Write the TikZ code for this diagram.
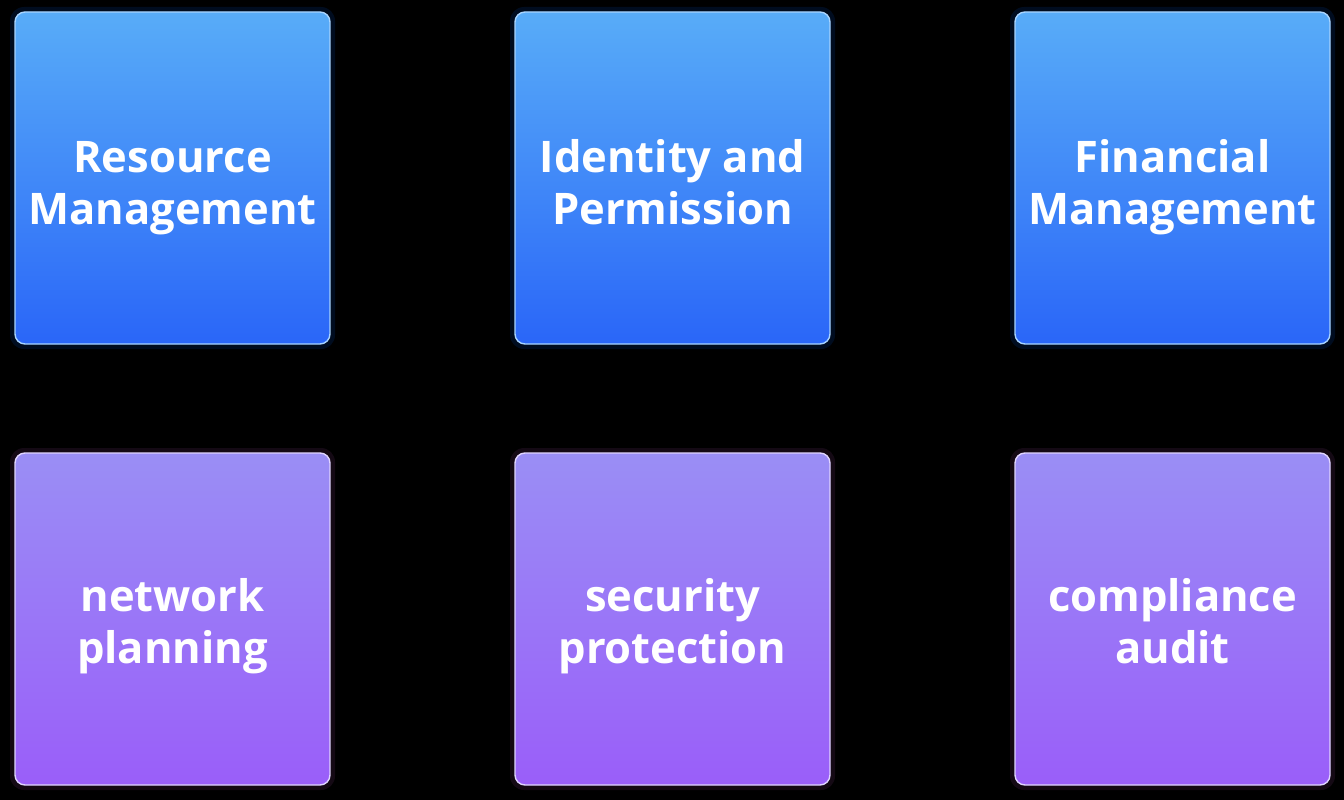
\documentclass[tikz,border=0pt]{standalone}
\usepackage{fontspec}
\setmainfont{Open Sans}
\usetikzlibrary{positioning}
\definecolor{btop}{HTML}{58ACF8}
\definecolor{bbot}{HTML}{2A66F8}
\definecolor{ptop}{HTML}{9A8EF5}
\definecolor{pbot}{HTML}{9A5EF9}
\definecolor{bline}{HTML}{A8D4FF}
\definecolor{pline}{HTML}{E0D4FF}
\newcommand{\cardline}[1]{\strut#1}
\tikzset{
  x=1pt,y=-1pt,
  card/.style={rounded corners=10pt, line width=1.4pt, minimum width=315pt, minimum height=332pt, inner sep=0pt},
  bluecard/.style={card, draw=bline, top color=btop, bottom color=bbot},
  purplecard/.style={card, draw=pline, top color=ptop, bottom color=pbot},
  glowb/.style={rounded corners=14pt, draw=none, fill=blue!60!cyan, fill opacity=0.12, minimum width=325pt, minimum height=342pt},
  glowp/.style={rounded corners=14pt, draw=none, fill=violet!70, fill opacity=0.12, minimum width=325pt, minimum height=342pt},
  label/.style={text=white, font=\fontsize{43.5}{52}\selectfont\bfseries, align=center, inner sep=0pt}
}
\begin{document}
\begin{tikzpicture}
\fill[black] (0,0) rectangle (1344,800);
\useasboundingbox (0,0) rectangle (1344,800);
\foreach \cx in {172.5,672.5,1172.5}{
  \node[glowb] at (\cx,178) {};
  \node[glowp] at (\cx,619) {};
}
\node[bluecard] (r1) at (172.5,178) {};
\node[bluecard] (r2) at (672.5,178) {};
\node[bluecard] (r3) at (1172.5,178) {};
\node[purplecard] (p1) at (172.5,619) {};
\node[purplecard] (p2) at (672.5,619) {};
\node[purplecard] (p3) at (1172.5,619) {};
\node[label] (t1) at (172.5,188) {\cardline{Resource}\\\cardline{Management}};
\node[label] (t2) at (672.5,188) {\cardline{Identity and}\\\cardline{Permission}};
\node[label] (t3) at (1172.5,188) {\cardline{Financial}\\\cardline{Management}};
\node[label] (t4) at (172.5,627.5) {\cardline{network}\\\cardline{planning}};
\node[label] (t5) at (672.5,627.5) {\cardline{security}\\\cardline{protection}};
\node[label] (t6) at (1172.5,627.5) {\cardline{compliance}\\\cardline{audit}};
\end{tikzpicture}
\end{document}
